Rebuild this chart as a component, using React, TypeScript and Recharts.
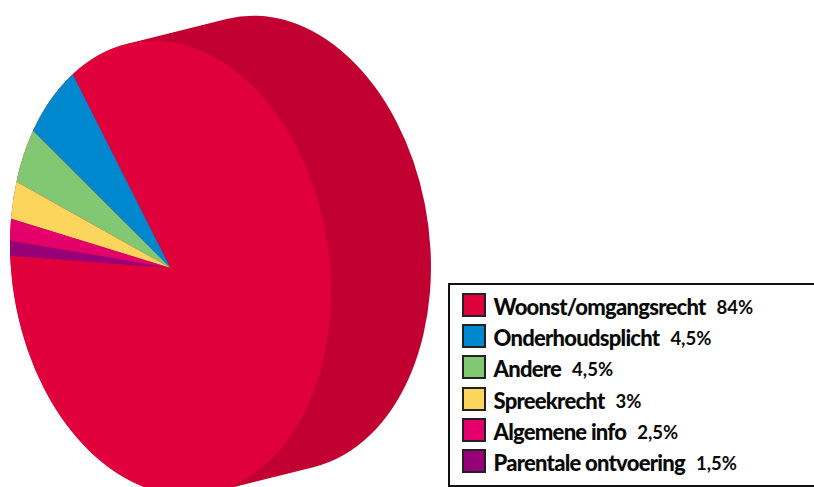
import { PieChart, Pie, Cell, Sector, Legend } from 'recharts';

const categories = ['Woonst/omgangsrecht', 'Onderhoudsplicht', 'Andere', 'Spreekrecht', 'Algemene info', 'Parentale ontvoering'];
// shares as drawn in the picture, the printed labels do not quite match the wedges
const shares = [84.6, 5.94, 4.11, 2.72, 1.56, 1.07];
const shareLabels = ['84%', '4,5%', '4,5%', '3%', '2,5%', '1,5%'];
const COLORS = ['#e0003c', '#0088cf', '#82c872', '#fcd65c', '#e3006b', '#980078'];
const SIDE_COLOR = '#c10031';

const chartData = categories.map((name, i) => ({ name, value: shares[i] }));
const sideData = [{ name: 'side', value: 100 }];

// the flat circle gets sheared into the tilted disc of the original
const TILT = 'matrix(1.605 0.24 0 2.26 0 0)';
const tilt = (cx: number, cy: number) => `translate(${cx} ${cy}) ${TILT} translate(${-cx} ${-cy})`;

const FaceSlice = (props: any) => (
  <g transform={tilt(props.cx, props.cy)}>
    <Sector {...props} stroke="none" />
  </g>
);

// round capped line = hull of front and back circle, in unsheared units
const SideShape = (props: any) => (
  <g transform={tilt(props.cx, props.cy)}>
    <line
      x1={props.cx}
      y1={props.cy}
      x2={props.cx + 62.3}
      y2={props.cy - 17.7}
      stroke={SIDE_COLOR}
      strokeWidth={props.outerRadius * 2}
      strokeLinecap="round"
    />
  </g>
);

const LegendBox = () => (
  <div
    style={{
      boxSizing: 'border-box',
      width: 368,
      height: 204,
      border: '2.5px solid #111',
      paddingTop: 4.5,
      paddingLeft: 11.5,
      background: '#fff',
      fontFamily: 'Lato, sans-serif',
      color: '#0a0a0a',
    }}
  >
    {categories.map((name, i) => (
      <div key={name} style={{ display: 'flex', alignItems: 'center', height: 31.2 }}>
        <span
          style={{
            boxSizing: 'border-box',
            width: 24,
            height: 24,
            background: COLORS[i],
            border: '2px solid #222',
            marginRight: 8,
          }}
        />
        <span style={{ fontWeight: 900, fontSize: 22, letterSpacing: -0.75, position: 'relative', top: 1.5 }}>{name}</span>
        <span style={{ fontWeight: 700, fontSize: 18.5, marginLeft: 11, position: 'relative', top: 2 }}>{shareLabels[i]}</span>
      </div>
    ))}
  </div>
);

export default function App() {
  return (
    <div style={{ position: 'absolute', left: 0, top: 0, width: 814, height: 487, overflow: 'hidden', background: '#fff' }}>
      <PieChart width={814} height={487} margin={{ top: 0, right: 0, bottom: 0, left: 0 }}>
        <Pie
          data={sideData}
          dataKey="value"
          cx={170.5}
          cy={268}
          outerRadius={100}
          legendType="none"
          shape={SideShape}
          isAnimationActive={false}
        />
        <Pie
          data={chartData}
          dataKey="value"
          cx={170.5}
          cy={268}
          innerRadius={0}
          outerRadius={100}
          startAngle={183}
          endAngle={543}
          shape={FaceSlice}
          isAnimationActive={false}
        >
          {chartData.map((entry, index) => (
            <Cell key={`cell-${index}`} fill={COLORS[index]} />
          ))}
        </Pie>
        <Legend
          content={<LegendBox />}
          layout="vertical"
          wrapperStyle={{ position: 'absolute', left: 448, top: 283, width: 368, height: 204 }}
        />
      </PieChart>
    </div>
  );
}
